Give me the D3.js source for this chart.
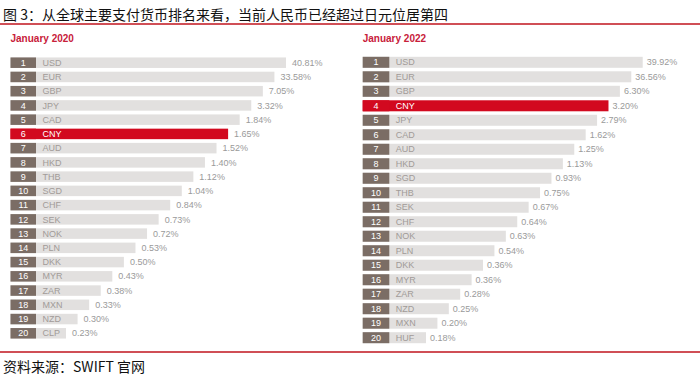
<!DOCTYPE html>
<html>
<head>
<meta charset="utf-8">
<script src="https://cdn.jsdelivr.net/npm/d3@7"></script>
<style>
  body { margin: 0; background: #fff; }
  svg { display: block; }
</style>
</head>
<body>
<script>
var width = 700;
var height = 378;

var cur2020 = ["USD", "EUR", "GBP", "JPY", "CAD", "CNY", "AUD", "HKD", "THB", "SGD",
               "CHF", "SEK", "NOK", "PLN", "DKK", "MYR", "ZAR", "MXN", "NZD", "CLP"];
var val2020 = [40.81, 33.58, 7.05, 3.32, 1.84, 1.65, 1.52, 1.40, 1.12, 1.04,
               0.84, 0.73, 0.72, 0.53, 0.50, 0.43, 0.38, 0.33, 0.30, 0.23];

var cur2022 = ["USD", "EUR", "GBP", "CNY", "JPY", "CAD", "AUD", "HKD", "SGD", "THB",
               "SEK", "CHF", "NOK", "PLN", "DKK", "MYR", "ZAR", "NZD", "MXN", "HUF"];
var val2022 = [39.92, 36.56, 6.30, 3.20, 2.79, 1.62, 1.25, 1.13, 0.93, 0.75,
               0.67, 0.64, 0.63, 0.54, 0.36, 0.36, 0.28, 0.25, 0.20, 0.18];

var ranks = d3.range(1, 21);

var svg = d3.select("body").append("svg").attr("width", width).attr("height", height);

// title + rules
svg.append("text").text("图 3：从全球主要支付货币排名来看，当前人民币已经超过日元位居第四")
    .attr("x", 3).attr("y", 19.5)
    .attr("font-family", "'Noto Sans CJK SC', sans-serif").attr("font-size", "14px")
    .attr("fill", "#111");
svg.append("line").attr("x1", 0).attr("x2", width).attr("y1", 24).attr("y2", 24)
    .attr("stroke", "#c0141e").attr("stroke-width", 1.3);
svg.append("line").attr("x1", 0).attr("x2", width).attr("y1", 352).attr("y2", 352)
    .attr("stroke", "#c0141e").attr("stroke-width", 1.3);
svg.append("text").text("资料来源：SWIFT 官网")
    .attr("x", 3).attr("y", 372)
    .attr("font-family", "'Noto Sans CJK SC', sans-serif").attr("font-size", "14px")
    .attr("fill", "#111");

function panel(opts) {
    var g = svg.append("g");
    var data = opts.names.map(function (n, i) {
        return { rank: ranks[i], name: n, value: opts.values[i] };
    });

    // bars shrink by rank, not by share
    var x = d3.scaleLinear().domain([20, 1]).range([opts.x20, opts.x1]);
    var y = d3.scalePoint().domain(ranks).range([opts.yTop, opts.yBottom]);
    var bh = opts.barH;

    g.append("text").text(opts.title)
        .attr("x", opts.left).attr("y", 42)
        .attr("font-family", "'Liberation Sans', Arial, sans-serif")
        .attr("font-size", "10px").attr("font-weight", "bold")
        .attr("fill", "#c8203a");

    var row = g.selectAll("g.row").data(data).enter().append("g").attr("class", "row");

    row.append("rect")
        .attr("x", opts.left)
        .attr("y", function (d) { return y(d.rank) - bh / 2; })
        .attr("width", function (d) { return x(d.rank) - opts.left; })
        .attr("height", bh)
        .attr("fill", function (d) { return d.name === "CNY" ? "#d2091f" : "#e2e0df"; });

    row.append("rect")
        .attr("x", opts.left)
        .attr("y", function (d) { return y(d.rank) - bh / 2; })
        .attr("width", opts.boxW)
        .attr("height", bh)
        .attr("fill", function (d) { return d.name === "CNY" ? "#d2091f" : "#7b6d65"; });

    row.append("text").text(function (d) { return d.rank; })
        .attr("x", opts.left + opts.boxW / 2)
        .attr("y", function (d) { return y(d.rank); })
        .attr("dy", "0.35em").attr("text-anchor", "middle")
        .attr("font-family", "'Liberation Sans', Arial, sans-serif").attr("font-size", "9px")
        .attr("fill", "#fff");

    row.append("text").text(function (d) { return d.name; })
        .attr("x", opts.left + opts.boxW + 6.5)
        .attr("y", function (d) { return y(d.rank); })
        .attr("dy", "0.35em")
        .attr("font-family", "'Liberation Sans', Arial, sans-serif").attr("font-size", "9px")
        .attr("fill", function (d) { return d.name === "CNY" ? "#fff" : "#a19b98"; });

    row.append("text").text(function (d) { return d.value.toFixed(2) + "%"; })
        .attr("x", function (d) { return x(d.rank) + opts.gap; })
        .attr("y", function (d) { return y(d.rank); })
        .attr("dy", "0.35em")
        .attr("font-family", "'Liberation Sans', Arial, sans-serif").attr("font-size", "9px")
        .attr("fill", "#9a9a9a");
}

panel({ title: "January 2020", names: cur2020, values: val2020,
        left: 10.5, boxW: 25.5, x1: 286, x20: 66, yTop: 62.7, yBottom: 333.3,
        barH: 10.5, gap: 6 });
panel({ title: "January 2022", names: cur2022, values: val2022,
        left: 362.7, boxW: 26.6, x1: 642.7, x20: 426, yTop: 62.3, yBottom: 337.7,
        barH: 11, gap: 4 });
</script>
</body>
</html>
